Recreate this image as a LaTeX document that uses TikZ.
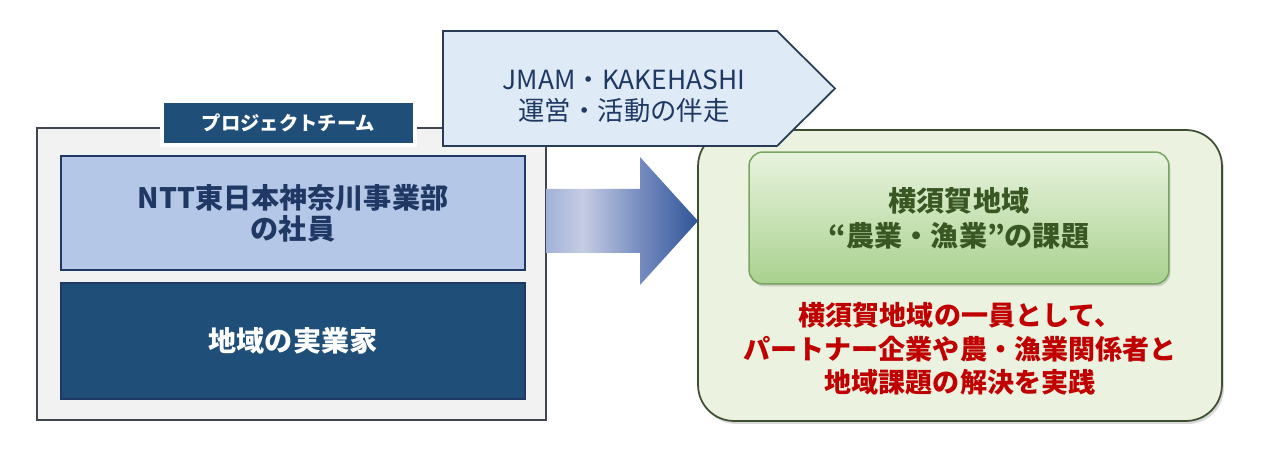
\documentclass[tikz,border=0pt]{standalone}
\usepackage{fontspec}
\setmainfont{Noto Sans CJK JP}
\usetikzlibrary{positioning,shadows}

\begin{document}
\begin{tikzpicture}[x=0.02cm, y=-0.02cm,
  panel/.style={draw=panel_border, line width=0.035cm, fill=panel_color},
  member/.style={draw=member_border, line width=0.03cm, minimum width=9.28cm, align=center, font=\bfseries\fontsize{16}{17.5}\selectfont},
  tab/.style={draw=white, line width=0.07cm, fill=team_navy, text=white, minimum width=5.06cm, minimum height=0.88cm, font=\bfseries\fontsize{11}{12}\selectfont},
  region/.style={draw=region_border, line width=0.035cm, fill=region_color, rounded corners=0.72cm, drop shadow={shadow xshift=0.04cm, shadow yshift=-0.06cm, opacity=0.3}},
  issue/.style={draw=issue_border, line width=0.03cm, top color=issue_top, bottom color=issue_bottom, rounded corners=0.28cm, minimum width=8.4cm, minimum height=2.64cm, align=center, text=issue_text, font=\bfseries\fontsize{16}{20}\selectfont, drop shadow={shadow xshift=0.03cm, shadow yshift=-0.05cm, opacity=0.3}},
  guide/.style={draw=guide_border, line width=0.035cm, fill=guide_color},
  guide text/.style={align=center, text=guide_text, font=\fontsize{15}{17.8}\selectfont}]
\definecolor{team_navy}{RGB}{31,78,121}
\definecolor{panel_color}{RGB}{242,242,242}
\definecolor{panel_border}{RGB}{64,70,80}
\definecolor{member_border}{RGB}{31,56,100}
\definecolor{ntt_color}{RGB}{180,199,231}
\definecolor{ntt_text}{RGB}{31,56,100}
\definecolor{guide_color}{RGB}{222,235,247}
\definecolor{guide_border}{RGB}{40,60,85}
\definecolor{guide_text}{RGB}{31,56,100}
\definecolor{region_color}{RGB}{235,242,224}
\definecolor{region_border}{RGB}{62,80,50}
\definecolor{issue_top}{RGB}{232,243,222}
\definecolor{issue_bottom}{RGB}{169,209,142}
\definecolor{issue_border}{RGB}{120,165,95}
\definecolor{issue_text}{RGB}{56,87,35}
\definecolor{action_red}{RGB}{192,0,0}
\definecolor{flow_a}{RGB}{160,178,215}
\definecolor{flow_b}{RGB}{198,204,227}
\definecolor{flow_c}{RGB}{118,140,192}
\definecolor{flow_d}{RGB}{47,85,151}
\pgfdeclarehorizontalshading{flowshade}{100bp}{color(0bp)=(flow_a); color(25bp)=(flow_a); color(37bp)=(flow_b); color(56bp)=(flow_c); color(75bp)=(flow_d); color(100bp)=(flow_d)}

\useasboundingbox (0,0) rectangle (1278,465);

% project team
\node[panel, minimum width=10.18cm, minimum height=5.84cm] (team) at (291.5,274) {};
\node[member, fill=ntt_color, text=ntt_text, minimum height=2.28cm] (ntt) at (293,213) {NTT東日本神奈川事業部\\の社員};
\node[member, fill=team_navy, text=white, minimum height=2.32cm] (local) at (293,341) {地域の実業家};
\node[tab] (tabel) at (288.5,123) {プロジェクトチーム};

% yokosuka region
\node[region, minimum width=10.48cm, minimum height=5.82cm] (yokosuka) at (960,275.5) {};
\node[issue] (issue) at (959,218) {横須賀地域\\“農業・漁業”の課題};
\node[align=center, text=action_red, font=\bfseries\fontsize{15.4}{19.2}\selectfont] (action) at (960,349) {横須賀地域の一員として、\\パートナー企業や農・漁業関係者と\\地域課題の解決を実践};

% big arrow
\shade[shading=flowshade] (546,189) -- (640,189) -- (640,157) -- (698,221) -- (640,285) -- (640,253) -- (546,253) -- cycle;

% support
\draw[guide] (443,31) -- (777,31) -- (835,88.5) -- (777,146) -- (443,146) -- cycle;
\node[guide text] (support) at (624,96) {JMAM・KAKEHASHI\\運営・活動の伴走};

\end{tikzpicture}
\end{document}
